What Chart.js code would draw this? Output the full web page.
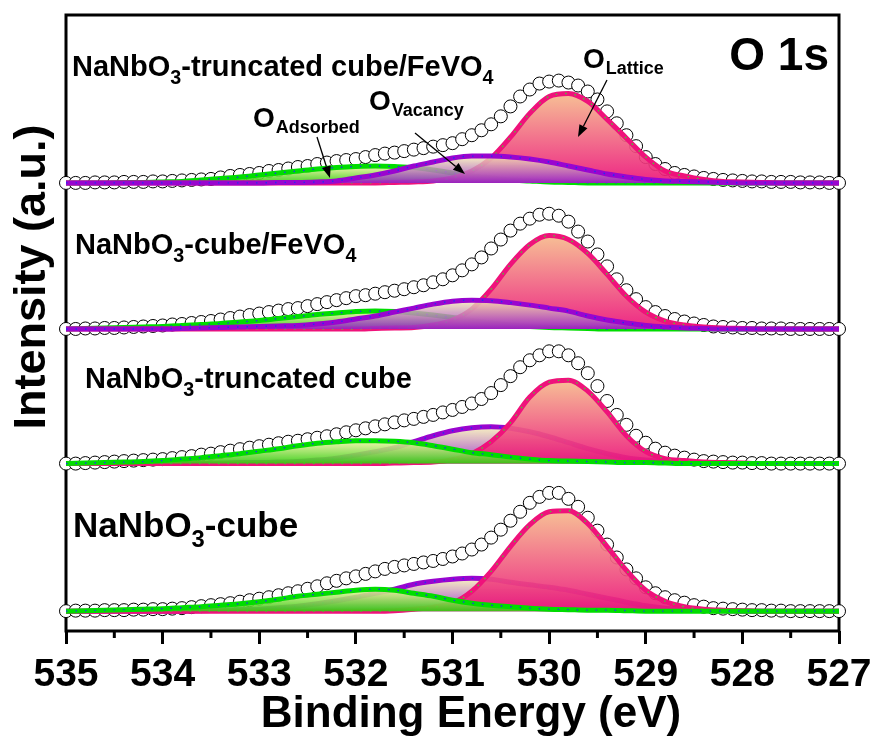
<!DOCTYPE html>
<html><head><meta charset="utf-8">
<script src="https://cdn.jsdelivr.net/npm/chart.js@4.4.0/dist/chart.umd.min.js"></script>
<style>html,body{margin:0;padding:0;background:#fff;}#wrap{width:874px;height:738px;}</style>
</head><body><div id="wrap"><canvas id="c" width="874" height="738"></canvas></div>
<script>
// ---------------- DATA ----------------
const xTitle = "Binding Energy (eV)";
const yTitle = "Intensity (a.u.)";
const coreLevel = "O 1s";
const xTicks = [535, 534, 533, 532, 531, 530, 529, 528, 527];
const sampleLabels = ["NaNbO3-truncated cube/FeVO4", "NaNbO3-cube/FeVO4", "NaNbO3-truncated cube", "NaNbO3-cube"];
const componentNames = ["Adsorbed", "Vacancy", "Lattice"];
// vertical stacking offset of each spectrum (intensity units)
const stackOffsets = [451, 304, 168.5, 20];

const energies = [535.0,534.9,534.8,534.7,534.6,534.5,534.4,534.3,534.2,534.1,
 534.0,533.9,533.8,533.7,533.6,533.5,533.4,533.3,533.2,533.1,
 533.0,532.9,532.8,532.7,532.6,532.5,532.4,532.3,532.2,532.1,
 532.0,531.9,531.8,531.7,531.6,531.5,531.4,531.3,531.2,531.1,
 531.0,530.9,530.8,530.7,530.6,530.5,530.4,530.3,530.2,530.1,
 530.0,529.9,529.8,529.7,529.6,529.5,529.4,529.3,529.2,529.1,
 529.0,528.9,528.8,528.7,528.6,528.5,528.4,528.3,528.2,528.1,
 528.0,527.9,527.8,527.7,527.6,527.5,527.4,527.3,527.2,527.1,
 527.0];
const fitEnergies = [535.0,534.8,534.6,534.4,534.2,534.0,533.8,533.6,533.4,533.2,
 533.0,532.8,532.6,532.4,532.2,532.0,531.8,531.6,531.4,531.2,
 531.0,530.8,530.6,530.4,530.2,530.0,529.8,529.6,529.4,529.2,
 529.0,528.8,528.6,528.4,528.2,528.0,527.8,527.6,527.4,527.2,
 527.0];

// measured spectra (open circles)
const raw1 = [0,0,0,0.5,0.5,0.5,1,1,1,1.5, 1.5,2,2.5,3,3.5,4,5.5,7,8,9,
 10,12,13,14.5,16,17,19,20.5,22,23, 24,26,28,29.5,30.5,32,33.5,35,36.5,38,
 40,44,48,53,59,67,77,87,94,100, 102,103,101,98,92,84,72,60,48,37,
 26,19,14,10,8,6.5,5,4,3,2.5, 2,1.5,1.5,1,1,1,0.5,0.5,0.5,0, 0];
const raw2 = [0,0,0.5,0.5,1,1,1.5,2,2.5,3, 3.5,4.5,5,6,7,8,9.5,11,12.5,14,
 15.5,17,18.5,20,21,23,25,27,29,31, 33,34,35.5,37,38.5,40,42,44,47,50,
 54,59,65,72,81,90,99,106,111,115, 116,114,108,98,88,75,63,50,39,30,
 22,17,13,10,7.5,5.5,4,2.5,2,1.5, 1,1,0.5,0.5,0.5,0,0,0,0,0, 0];
const raw3 = [0,0,0.5,1,1.5,2,2.5,3,3.5,4, 4.5,5.5,6.5,7.5,9,10,11.5,13,14.5,16,
 17.5,19,20.5,22,23,24.5,26,27.5,29.5,31.5, 33.5,35.5,37.5,39.5,41.5,43.5,45,47,49,51.5,
 54,57,60.5,65,71,79,88,97,104,109, 113,113,109,101,91,78,63,49,39,28,
 21,15,11,8,6,4,2.5,2,1.5,1, 1,0.5,0.5,0,0,0,0,0,0,0, 0];
const raw4 = [0,0.5,0.5,0.5,1,1,1,1.5,1.5,2, 2,2.5,3,4,5,6,7,8,9.5,11,
 12.5,14,16,18,20,22.5,25,28,30.5,33, 35,37.5,40,42.5,44.5,46,47.5,49,50.5,52.5,
 55,58,62,67,74,82,91,100,109,115, 119,119,113,105,94,81,67,54,42,33,
 24,18,14,11,8.5,6,4.5,3,2.5,2, 1.5,1,1,0.5,0.5,0,0,0,0,0, 0];

// fitted components: lattice O, vacancy O, adsorbed O
const lat1 = [0,0,0,0,0,0,0,0,0,0, 0,0,0,0,0,0,0,0.5,1,2, 5,12,25,46,70,87,90,82,64,45, 26,12,7,3.5,1.5,1,0.5,0,0,0, 0];
const vac1 = [0,0,0,0,0,0,0,0,0,0, 0,0.5,0.5,1,2,5,8,12,17,21, 25,27,27,26,24,21,17,13,9,6, 3.5,2,1.5,1,0.5,0,0,0,0,0, 0];
const ads1 = [0,0,0,0.5,0.5,1,1.5,3,4.5,6, 8,10,12,14,15.5,16.5,17,16.5,15.5,13, 10,7,5,3,2,1,0.5,0,0,0, 0,0,0,0,0,0,0,0,0,0, 0];

const lat2 = [0,0,0,0,0,0,0,0,0,0, 0,0,0,0,0,0,0.5,1,1.5,4, 9,20,40,65,85,94,90,76,55,33, 17,8,4,2,1,0.5,0,0,0,0, 0];
const vac2 = [0,0,0,0,0,0,0.5,1,1.5,2, 2.5,3,3.5,5,7,10,13,17,21,25, 28,29,28.5,26.5,24,21,18,13,9,6, 3.5,2,1,0.5,0,0,0,0,0,0, 0];
const ads2 = [0,0.5,1,1.5,2,2.5,3.5,4.5,5.5,7, 8.5,10.5,12.5,14.5,16,17.5,18,17.5,16,14, 11.5,8.5,6,4,2.5,1.5,1,0.5,0,0, 0,0,0,0,0,0,0,0,0,0, 0];

const lat3 = [0,0,0,0,0,0,0,0,0,0, 0,0,0,0,0,0,0,0.5,1,1.5, 4,10,22,41,67,82,84,73,52,28, 12,5,3,1.5,1,0.5,0,0,0,0, 0];
const vac3 = [0,0,0,0,0,0,0,0,0.5,1, 1,1.5,2,3.5,5.5,8.5,12,16,22,28, 33,36,37,35.5,32,27,21,15,10,6, 3.5,2,1,0.5,0,0,0,0,0,0, 0];
const ads3 = [0,0.5,1,1.5,2,3,4.5,6,8,10, 12.5,15,18,20.5,22,23,23,22.5,21,18, 14.5,11,9,6.5,4.5,3,2.5,2,1.5,1, 1,0.5,0,0,0,0,0,0,0,0, 0];

const lat4 = [0,0,0,0,0,0,0,0,0,0, 0,0,0,0,0,0,0,0.5,2,4, 8,20,40,65,87,100,101,88,65,41, 21,10,4.5,2,1,0.5,0,0,0,0, 0];
const vac4 = [0,0,0,0,0,0,0,0.5,1,1.5, 2,3.5,5,7.5,10.5,14,18,22,27,30, 32,33,32,29,26.5,24,21,17,13,9, 5.5,3,1.5,1,0.5,0,0,0,0,0, 0];
const ads4 = [0,0.5,1,1.5,2,2.5,3.5,4.5,6,7.5, 9.5,12,15,17,19,21,22,21,18,15, 11,8,6,4.5,3,2,1.5,1,1,0.5, 0,0,0,0,0,0,0,0,0,0, 0];

const rawSpectra = [raw1, raw2, raw3, raw4];
const latticeFits = [lat1, lat2, lat3, lat4];
const vacancyFits = [vac1, vac2, vac3, vac4];
const adsorbedFits = [ads1, ads2, ads3, ads4];

// ---------------- STYLE ----------------
const FONT = '"Liberation Sans", Arial, Helvetica, sans-serif';
const peakStyle = {
  lat: {line: '#ef127b', top: 'rgba(246,186,140,0.92)', bot: 'rgba(236,20,122,0.92)', dot: '#44cc33'},
  vac: {line: '#9a05cf', top: 'rgba(246,238,178,0.8)', bot: 'rgba(145,35,200,0.88)', dot: '#2233ee'},
  ads: {line: '#00dd00', top: 'rgba(242,242,160,0.85)', bot: 'rgba(50,205,15,0.92)', dot: '#2233ee'}
};

function gradientFor(off, arr, st) {
  const peak = Math.max(...arr);
  return (ctx) => {
    const chart = ctx.chart;
    if (!chart.chartArea) return st.bot;
    const y = chart.scales.y;
    const g = chart.ctx.createLinearGradient(0, y.getPixelForValue(off + peak), 0, y.getPixelForValue(off));
    g.addColorStop(0, st.top);
    g.addColorStop(1, st.bot);
    return g;
  };
}

const datasets = [];
for (let p = 0; p < 4; p++) {
  const off = stackOffsets[p];
  datasets.push({
    type: 'line', data: energies.map((e, i) => ({x: e, y: off + rawSpectra[p][i]})),
    showLine: false, pointRadius: 6.5, pointBorderWidth: 1, pointBorderColor: '#000',
    pointBackgroundColor: '#fff', order: 20, clip: false
  });
  // layering: top two spectra -> vacancy on top; lower two -> adsorbed on top
  const layer = p < 2 ? {vac: 3, lat: 5, ads: 7} : {ads: 3, lat: 5, vac: 7};
  const comps = {lat: latticeFits[p], vac: vacancyFits[p], ads: adsorbedFits[p]};
  for (const k of ['lat', 'vac', 'ads']) {
    const st = peakStyle[k];
    const pts = fitEnergies.map((e, i) => ({x: e, y: off + comps[k][i]}));
    datasets.push({
      type: 'line', data: pts, borderColor: st.line, borderWidth: 5,
      backgroundColor: gradientFor(off, comps[k], st), fill: {value: off},
      pointRadius: 0, cubicInterpolationMode: 'monotone', order: layer[k], clip: false
    });
    datasets.push({
      type: 'line', data: pts, borderColor: st.dot, borderWidth: 1.4, borderDash: [1.5, 8],
      fill: false, pointRadius: 0, cubicInterpolationMode: 'monotone', order: layer[k] - 0.5, clip: false
    });
  }
}

// ---------------- DECORATION PLUGIN ----------------
function drawChem(ctx, text, x, y, size) {
  const parts = text.split(/(\d)/).filter(s => s.length);
  let cx = x;
  for (const t of parts) {
    const sub = /^\d$/.test(t);
    const fs = sub ? size * 0.68 : size;
    ctx.font = `bold ${fs}px ${FONT}`;
    ctx.fillText(t, cx, sub ? y + size * 0.29 : y);
    cx += ctx.measureText(t).width;
  }
}
function drawO(ctx, sub, x, y) {
  ctx.font = `bold 28px ${FONT}`;
  ctx.fillText('O', x, y);
  const w = ctx.measureText('O').width;
  ctx.font = `bold 18px ${FONT}`;
  ctx.fillText(sub, x + w + 1, y + 6);
}
function arrow(ctx, x1, y1, x2, y2) {
  const a = Math.atan2(y2 - y1, x2 - x1), L = 12, W = 4.5;
  const bx = x2 - L * Math.cos(a), by = y2 - L * Math.sin(a);
  ctx.beginPath(); ctx.moveTo(x1, y1); ctx.lineTo(bx, by);
  ctx.lineWidth = 1.3; ctx.strokeStyle = '#000'; ctx.stroke();
  ctx.beginPath(); ctx.moveTo(x2, y2);
  ctx.lineTo(bx + W * Math.sin(a), by - W * Math.cos(a));
  ctx.lineTo(bx - W * Math.sin(a), by + W * Math.cos(a));
  ctx.closePath(); ctx.fillStyle = '#000'; ctx.fill();
}

const deco = {
  id: 'deco',
  beforeDatasetsDraw(chart) {
    const {ctx, chartArea: a} = chart;
    ctx.save();
    ctx.lineWidth = 3; ctx.strokeStyle = '#000';
    ctx.strokeRect(a.left, a.top, a.right - a.left, a.bottom - a.top);
    // minor ticks
    const xs = chart.scales.x;
    for (let i = 0; i < xTicks.length - 1; i++) {
      const px = xs.getPixelForValue((xTicks[i] + xTicks[i + 1]) / 2);
      ctx.beginPath(); ctx.moveTo(px, a.bottom); ctx.lineTo(px, a.bottom + 7); ctx.stroke();
    }
    ctx.restore();
  },
  afterDraw(chart) {
    const {ctx} = chart;
    ctx.save();
    ctx.fillStyle = '#000';
    ctx.textBaseline = 'alphabetic';
    ctx.textAlign = 'left';
    const pos = [[72, 76, 29], [75, 254, 29], [85, 388, 29], [73, 537, 35]];
    sampleLabels.forEach((s, i) => drawChem(ctx, s, pos[i][0], pos[i][1], pos[i][2]));
    drawO(ctx, componentNames[0], 253, 127);
    drawO(ctx, componentNames[1], 369, 110);
    drawO(ctx, componentNames[2], 583, 68);
    arrow(ctx, 317, 137, 330, 178);
    arrow(ctx, 415, 133, 465, 174);
    arrow(ctx, 607, 80, 578, 137);
    ctx.textAlign = 'right';
    ctx.font = `bold 46px ${FONT}`;
    ctx.fillText(coreLevel, 829, 70);
    ctx.textAlign = 'center';
    ctx.font = `bold 44px ${FONT}`;
    ctx.fillText(xTitle, 471, 727);
    ctx.translate(45, 277);
    ctx.rotate(-Math.PI / 2);
    ctx.font = `bold 45px ${FONT}`;
    ctx.fillText(yTitle, 0, 0);
    ctx.restore();
  }
};

new Chart(document.getElementById('c'), {
  type: 'line',
  data: {datasets},
  options: {
    responsive: false, animation: false, events: [],
    layout: {padding: {left: 66, right: 35, top: 15, bottom: 31}},
    plugins: {legend: {display: false}, tooltip: {enabled: false}},
    scales: {
      x: {
        type: 'linear', reverse: true, min: 527, max: 535,
        afterBuildTicks: (s) => { s.ticks = xTicks.map(v => ({value: v})); },
        afterFit: (s) => { s.paddingLeft = 0; s.paddingRight = 0; },
        ticks: {color: '#000', padding: 12, font: {family: FONT, size: 39, weight: 'bold', lineHeight: 1}, maxRotation: 0, autoSkip: false},
        grid: {display: true, drawOnChartArea: false, drawTicks: true, tickLength: 13, tickWidth: 3, tickColor: '#000'},
        border: {display: false}
      },
      y: {type: 'linear', display: false, min: 0, max: 620}
    }
  },
  plugins: [deco]
});
</script></body></html>
